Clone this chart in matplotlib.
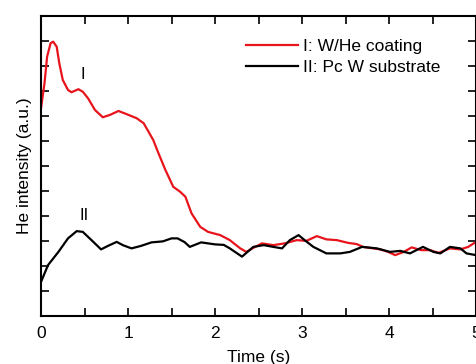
import matplotlib
matplotlib.use("Agg")
import matplotlib.pyplot as plt
from matplotlib.ticker import MultipleLocator, NullFormatter

plt.rcParams['font.family'] = ['Liberation Sans', 'DejaVu Sans']

# Series I: W/He coating (red)
t_red = [0.0, 0.04, 0.07, 0.11, 0.14, 0.18, 0.21, 0.25, 0.31, 0.35, 0.43, 0.48, 0.54,
         0.62, 0.71, 0.79, 0.89, 0.98, 1.10, 1.18, 1.29, 1.35, 1.43, 1.52, 1.60, 1.66,
         1.73, 1.83, 1.92, 2.06, 2.17, 2.29, 2.36, 2.44, 2.54, 2.67, 2.80, 2.94, 3.05,
         3.17, 3.28, 3.40, 3.53, 3.63, 3.70, 3.90, 3.99, 4.07, 4.17, 4.26, 4.37, 4.47,
         4.57, 4.70, 4.82, 4.91, 5.0]
i_red = [8.3, 9.3, 10.36, 10.9, 10.96, 10.76, 10.1, 9.43, 9.03, 8.94, 9.06, 8.96, 8.7,
         8.23, 7.94, 8.03, 8.19, 8.07, 7.9, 7.7, 7.03, 6.5, 5.83, 5.16, 4.96, 4.76,
         4.1, 3.56, 3.36, 3.23, 3.03, 2.7, 2.56, 2.72, 2.9, 2.83, 2.9, 3.03, 3.0,
         3.19, 3.06, 3.03, 2.92, 2.87, 2.76, 2.66, 2.56, 2.43, 2.56, 2.74, 2.63, 2.63,
         2.52, 2.7, 2.66, 2.76, 2.96]

# Series II: Pc W substrate (black)
t_blk = [0.0, 0.08, 0.20, 0.31, 0.41, 0.48, 0.58, 0.69, 0.77, 0.87, 0.94, 1.04, 1.15,
         1.27, 1.40, 1.50, 1.57, 1.65, 1.71, 1.84, 2.0, 2.10, 2.17, 2.31, 2.44, 2.56,
         2.67, 2.77, 2.86, 2.96, 3.03, 3.13, 3.28, 3.44, 3.55, 3.69, 3.86, 4.01, 4.13,
         4.24, 4.39, 4.51, 4.59, 4.70, 4.82, 4.89, 5.0]
i_blk = [1.36, 2.03, 2.56, 3.1, 3.39, 3.36, 3.03, 2.66, 2.8, 2.96, 2.83, 2.7, 2.8,
         2.94, 2.98, 3.1, 3.1, 2.95, 2.76, 2.94, 2.86, 2.84, 2.7, 2.37, 2.76, 2.83,
         2.76, 2.7, 3.03, 3.23, 3.03, 2.76, 2.5, 2.5, 2.56, 2.76, 2.7, 2.56, 2.6,
         2.5, 2.76, 2.56, 2.5, 2.76, 2.7, 2.5, 2.43]

labels = ["I: W/He coating", "II: Pc W substrate"]

fig = plt.figure(figsize=(4.77, 3.64), dpi=100)
ax = fig.add_axes([0.086, 0.132, 0.912, 0.825])

ax.plot(t_red, i_red, color='#e8141c', lw=1.6, label=labels[0],
        solid_joinstyle='round')
ax.plot(t_blk, i_blk, color='black', lw=1.6, label=labels[1],
        solid_joinstyle='round')

ax.text(0.48, 9.35, "I", fontsize=12, ha='center', va='bottom')
ax.text(0.50, 3.7, "II", fontsize=12, ha='center', va='bottom')

ax.set_xlim(0, 5)
ax.set_ylim(0, 12)
ax.xaxis.set_major_locator(MultipleLocator(1))
ax.xaxis.set_minor_locator(MultipleLocator(0.5))
ax.yaxis.set_major_locator(MultipleLocator(1))
ax.yaxis.set_major_formatter(NullFormatter())
ax.tick_params(axis='both', which='both', direction='in', top=True, right=True,
               length=6, width=1.2, labelsize=12.5)
ax.tick_params(axis='x', pad=7)
for s in ax.spines.values():
    s.set_linewidth(1.5)

ax.set_xlabel("Time (s)", fontsize=12.5, labelpad=7)
ax.set_ylabel("He intensity (a.u.)", fontsize=12.5, labelpad=3)

ax.legend(loc='upper right', frameon=False, fontsize=12.5, handlelength=3.0,
          handletextpad=0.3, borderaxespad=0.5, labelspacing=0.35,
          bbox_to_anchor=(0.955, 0.975))

fig.savefig("out.png", dpi=100)
